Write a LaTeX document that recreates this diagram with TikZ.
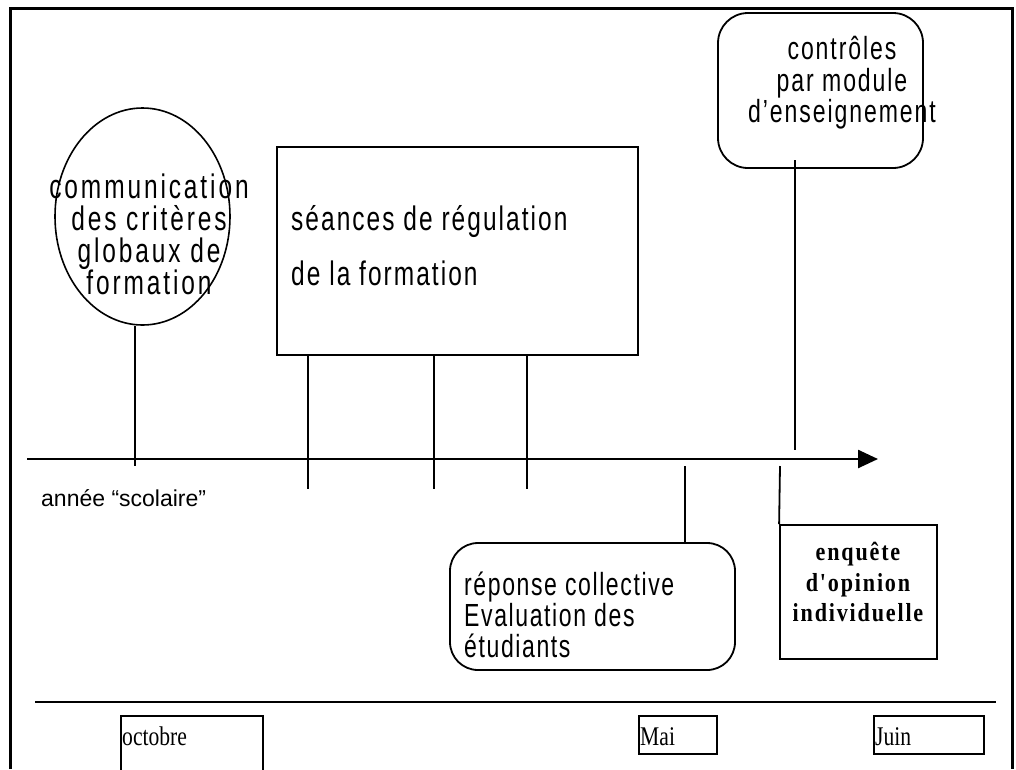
\documentclass[tikz,border=0pt]{standalone}
\usepackage{fontspec}
\setmainfont{Liberation Serif}
\newfontfamily\nar[FakeStretch=0.72,LetterSpace=6]{Liberation Sans}
\newfontfamily\narw[FakeStretch=0.72,LetterSpace=8.5]{Liberation Sans}
\newfontfamily\narr[FakeStretch=0.72,LetterSpace=5]{Liberation Sans}
\newfontfamily\narc[FakeStretch=0.72,LetterSpace=6]{Liberation Sans}
\newfontfamily\arialf{Liberation Sans}
\newfontfamily\timsp[FakeStretch=0.85,LetterSpace=7]{Liberation Serif}
\newfontfamily\timn[FakeStretch=0.8]{Liberation Serif}
\usetikzlibrary{shapes.geometric,arrows.meta}
\begin{document}
\begin{tikzpicture}[x=1pt,y=-1pt,
  thinline/.style={line width=1.8pt},
  boxstyle/.style={draw,line width=1.8pt,inner sep=0pt},
  rbox/.style={boxstyle,rounded corners=28pt},
  monthbox/.style={draw,line width=2pt,inner sep=0pt,anchor=north west},
  monthtxt/.style={anchor=base west,inner sep=0pt,font=\timn\fontsize{27}{29}\selectfont},
  sanstxt/.style={inner sep=0pt}
]
\useasboundingbox (0,0) rectangle (1016,769);
% frame
\draw[line width=3pt] (10,769) -- (10,8) -- (1012,8) -- (1012,769);

% ellipse
\node[draw,ellipse,line width=1.6pt,minimum width=175pt,minimum height=217pt,inner sep=0pt] (ell) at (142.5,216.5) {};
\node[sanstxt,align=center,font=\narw\fontsize{34}{32}\selectfont] (ellt) at (149,234) {communication\\des critères\\globaux de\\formation};

% regulation box
\node[boxstyle,minimum width=361pt,minimum height=208pt] (reg) at (457.5,251) {};
\node[sanstxt,align=left,anchor=west,font=\nar\fontsize{34}{55}\selectfont] (regt) at (291,246) {séances de régulation\\de la formation};

% controls box
\node[rbox,rounded corners=30pt,minimum width=205pt,minimum height=155pt] (ctl) at (820.5,90.5) {};
\node[sanstxt,align=center,font=\narc\fontsize{32}{31.5}\selectfont] (ctlt) at (842,83) {contrôles\\par module\\d’enseignement};

% reponse box
\node[rbox,minimum width=285pt,minimum height=127pt] (rep) at (592.5,606.5) {};
\node[sanstxt,align=left,anchor=west,font=\narr\fontsize{32}{31}\selectfont] (rept) at (464,615) {réponse collective\\Evaluation des\\étudiants};

% enquete box
\node[boxstyle,minimum width=157pt,minimum height=134pt] (enq) at (858.5,592) {};
\node[inner sep=0pt,align=center,font=\timsp\bfseries\fontsize{26}{30.5}\selectfont] (enqt) at (858,582) {enquête\\d'opinion\\individuelle};

% timeline
\coordinate (tl0) at (27,459);
\coordinate (tl1) at (878,459);
\draw[line width=2.5pt,-{Triangle[length=20pt,width=18pt]}] (tl0) -- (tl1);
\node[anchor=west,inner sep=0pt,font=\arialf\fontsize{23}{26}\selectfont] (annee) at (41,498) {année “scolaire”};

% ticks
\coordinate (e1) at (135,466);
\draw[thinline] (e1 |- ell.south) -- (e1);
\coordinate (r1) at (308,489);
\coordinate (r2) at (434,489);
\coordinate (r3) at (527,489);
\draw[thinline] (reg.south -| r1) -- (r1);
\draw[thinline] (reg.south -| r2) -- (r2);
\draw[thinline] (reg.south -| r3) -- (r3);
\coordinate (c1) at (795,160);
\coordinate (c2) at (795,450);
\draw[thinline] (c1) -- (c2);
\coordinate (p1) at (685,466);
\draw[thinline] (p1) -- (rep.north -| p1);
\coordinate (q1) at (780,466);
\draw[thinline] (q1) -- (enq.north west);

% bottom line
\coordinate (b0) at (35,702);
\coordinate (b1) at (996,702);
\draw[line width=2.5pt] (b0) -- (b1);

% months
\node[monthbox,minimum width=142pt,minimum height=80pt] (oct) at (120,715) {};
\node[monthtxt] (octt) at (122,745) {octobre};
\node[monthbox,minimum width=78pt,minimum height=38pt] (mai) at (638,715) {};
\node[monthtxt] (mait) at (640,745) {Mai};
\node[monthbox,minimum width=110pt,minimum height=38pt] (juin) at (873,715) {};
\node[monthtxt] (juint) at (875,745) {Juin};
\end{tikzpicture}
\end{document}
